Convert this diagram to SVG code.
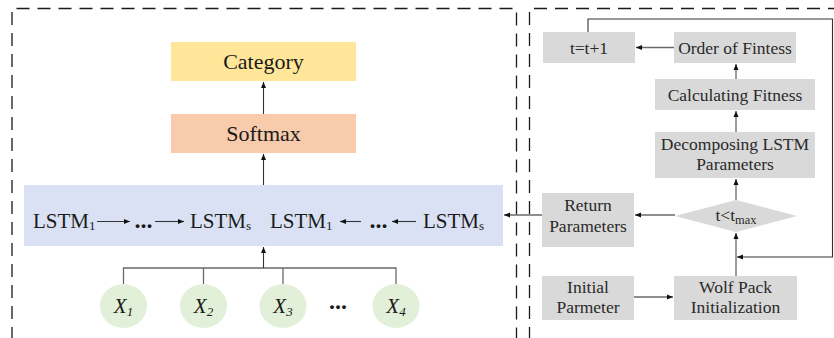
<svg xmlns="http://www.w3.org/2000/svg" width="834" height="338" viewBox="0 0 834 338">
<defs>
<marker id="ah" markerUnits="userSpaceOnUse" markerWidth="7" markerHeight="6" refX="6" refY="3" orient="auto">
<path d="M0,0.5 L6,3 L0,5.5 Z" fill="#111"/>
</marker>
<style>
.t{font-family:"Liberation Serif","Times New Roman",serif;fill:#1a1a1a;text-anchor:middle}
.big{font-size:22px}
.mid{font-size:21px}
.dots{font-size:24px;font-weight:bold}
.sm{font-size:17.5px;fill:#2a2a2a}
.dash{fill:none;stroke:#1a1a1a;stroke-width:1.3;stroke-dasharray:13 8}
.g{fill:#d9d9d9}
.ln{fill:none;stroke:#333;stroke-width:1.1}
.gl{fill:none;stroke:#6a6a6a;stroke-width:1.3}
.ar{marker-end:url(#ah)}
.circ{fill:#e2efd9}
.xi{font-family:"Liberation Serif","Times New Roman",serif;font-style:italic;font-size:21px;fill:#1a1a1a;text-anchor:middle}
</style>
</defs>
<rect width="834" height="338" fill="#fff"/>

<g id="frames">
<path class="dash" d="M12,340 V8.5 H516.5 V340"/>
<path class="dash" d="M529.5,340 V8.5 H840"/>
</g>

<g id="category">
<rect x="171" y="42" width="185" height="39" fill="#ffe699"/>
<text class="t big" x="263.5" y="69">Category</text>
</g>
<g id="softmax">
<rect x="171" y="114" width="185" height="39" fill="#f8cbad"/>
<text class="t big" x="263.5" y="141">Softmax</text>
</g>
<g id="lstm">
<rect x="24" y="185" width="479" height="61" fill="#dae1f4"/>
<text class="t mid" x="33" y="228" style="text-anchor:start">LSTM<tspan font-size="13" dy="2">1</tspan></text>
<text class="t dots" x="143.5" y="228">...</text>
<text class="t mid" x="190" y="228" style="text-anchor:start">LSTM<tspan font-size="13" dy="2">s</tspan></text>
<text class="t mid" x="270" y="228" style="text-anchor:start">LSTM<tspan font-size="13" dy="2">1</tspan></text>
<text class="t dots" x="378.5" y="228">...</text>
<text class="t mid" x="423" y="228" style="text-anchor:start">LSTM<tspan font-size="13" dy="2">s</tspan></text>
<path class="ln ar" d="M97,221.5 H130"/>
<path class="ln ar" d="M155,221.5 H184"/>
<path class="ln ar" d="M361,221.5 H340"/>
<path class="ln ar" d="M416,221.5 H392"/>
</g>
<g id="x1"><ellipse class="circ" cx="123.5" cy="306" rx="23.5" ry="22"/><text class="xi" x="123.5" y="313">X<tspan font-size="13" dy="3">1</tspan></text></g>
<g id="x2"><ellipse class="circ" cx="203.5" cy="306" rx="23.5" ry="22"/><text class="xi" x="203.5" y="313">X<tspan font-size="13" dy="3">2</tspan></text></g>
<g id="x3"><ellipse class="circ" cx="283" cy="306" rx="23.5" ry="22"/><text class="xi" x="283" y="313">X<tspan font-size="13" dy="3">3</tspan></text></g>
<text class="t dots" x="338" y="309">...</text>
<g id="x4"><ellipse class="circ" cx="396" cy="306" rx="23.5" ry="22"/><text class="xi" x="396" y="313">X<tspan font-size="13" dy="3">4</tspan></text></g>

<g id="tinc"><rect class="g" x="543" y="32" width="92" height="31"/><text class="t sm" x="589" y="53.5">t=t+1</text></g>
<g id="order"><rect class="g" x="674" y="32" width="122" height="31"/><text class="t sm" x="735" y="53.5">Order of Fintess</text></g>
<g id="calc"><rect class="g" x="655" y="79" width="160" height="31"/><text class="t sm" x="735" y="100.5">Calculating Fitness</text></g>
<g id="decomp"><rect class="g" x="655" y="132" width="160" height="46"/><text class="t sm" x="735" y="150">Decomposing LSTM</text><text class="t sm" x="735" y="170">Parameters</text></g>
<g id="cond"><path class="g" d="M736,200 L797,216 L736,232 L675,216 Z"/><text class="t sm" x="736" y="221">t&lt;t<tspan font-size="12.5" dy="3">max</tspan></text></g>
<g id="ret"><rect class="g" x="542" y="193" width="92" height="54"/><text class="t sm" x="588" y="211">Return</text><text class="t sm" x="588" y="232">Parameters</text></g>
<g id="init"><rect class="g" x="542" y="276" width="92" height="44"/><text class="t sm" x="588" y="293">Initial</text><text class="t sm" x="588" y="313">Parmeter</text></g>
<g id="wolf"><rect class="g" x="674" y="276" width="123" height="44"/><text class="t sm" x="735.5" y="293">Wolf Pack</text><text class="t sm" x="735.5" y="313">Initialization</text></g>

<g id="connectors">
<path class="ln ar" d="M263.5,114 V82"/>
<path class="ln ar" d="M263.5,185 V154"/>
<path class="gl" d="M123.5,284 V268 H396 V284 M203.5,268 V284 M283,268 V284"/>
<path class="ln ar" d="M263.5,268 V247"/>
<path class="gl ar" d="M674,47.5 H636"/>
<path class="gl ar" d="M736,79 V64"/>
<path class="gl ar" d="M736,132 V111"/>
<path class="gl ar" d="M736,200 V179"/>
<path class="gl ar" d="M736,276 V233"/>
<path class="ln ar" d="M588,32 V19 H832.5 V257 H737"/>
<path class="gl ar" d="M634,297 H673"/>
<path class="gl ar" d="M675,215 H635"/>
<path class="gl ar" d="M542,215 H504"/>
</g>
</svg>
